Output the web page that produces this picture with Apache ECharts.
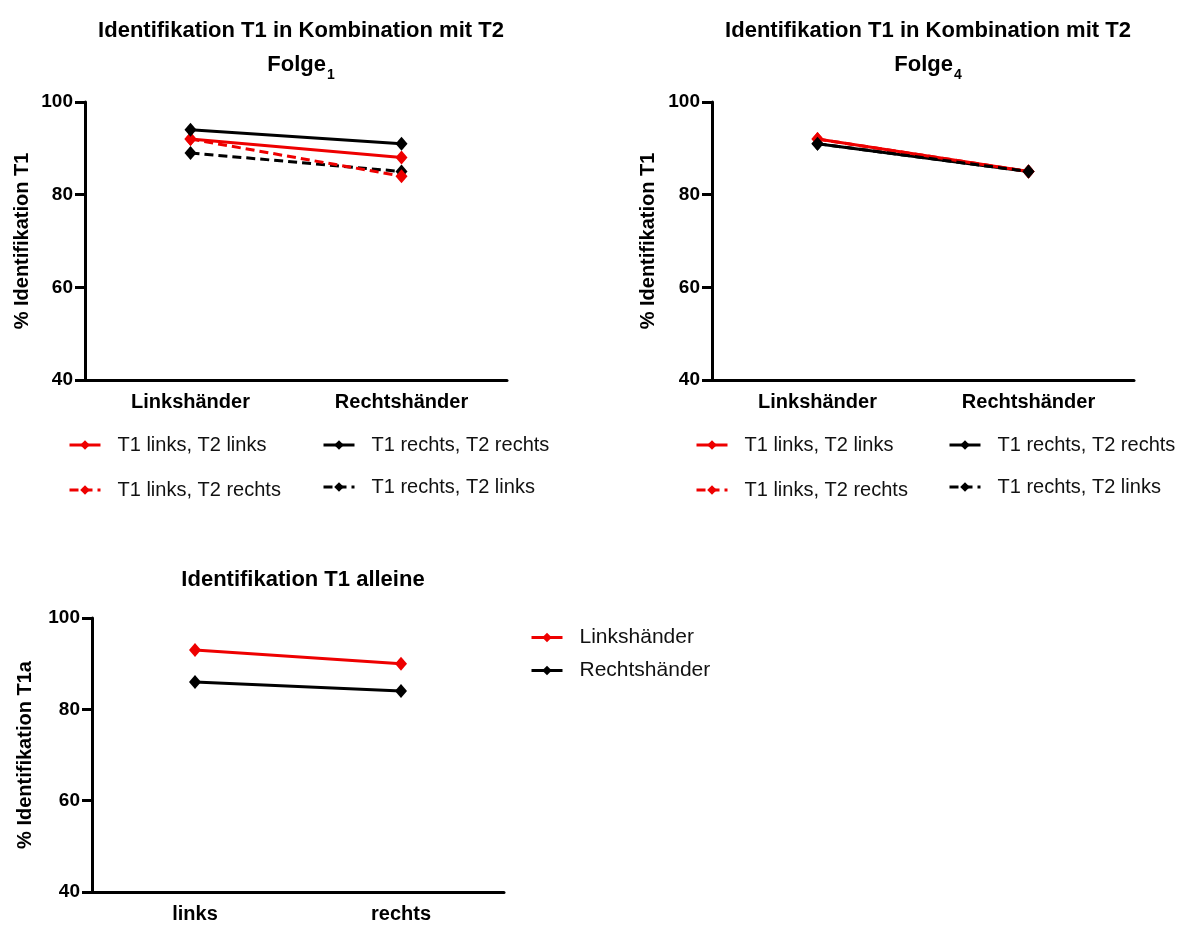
<!DOCTYPE html>
<html>
<head>
<meta charset="utf-8">
<script src="https://cdn.jsdelivr.net/npm/echarts@6/dist/echarts.min.js"></script>
<style>
  html, body { margin: 0; padding: 0; background: #fff; }
  #chart { width: 1188px; height: 925px; }
</style>
</head>
<body>
<div id="chart"></div>
<script>
// Folge 1 / Folge 4: Kategorien und Werte
const handCategories = ['Linkshänder', 'Rechtshänder']
const f1LinksLinks = [92, 88]
const f1LinksRechts = [92, 84]
const f1RechtsRechts = [94, 91]
const f1RechtsLinks = [89, 85]
const f4LinksLinks = [92, 85]
const f4LinksRechts = [92, 85]
const f4RechtsRechts = [91, 85]
const f4RechtsLinks = [91, 85]

// T1 alleine
const sideCategories = ['links', 'rechts']
const alleineLinkshaender = [93, 90]
const alleineRechtshaender = [86, 84]

const seriesNames = ['T1 links, T2 links', 'T1 links, T2 rechts', 'T1 rechts, T2 rechts', 'T1 rechts, T2 links']

const FONT = '"Liberation Sans", Arial, sans-serif'
const RED = '#ee0000'
const BLACK = '#000000'

const chart = echarts.init(document.getElementById('chart'))

function xAxis(idx, cats) {
  return {
    type: 'category', gridIndex: idx, data: cats, boundaryGap: true,
    axisLine: { lineStyle: { color: '#000', width: 3 } },
    axisTick: { alignWithLabel: true, length: 9, lineStyle: { width: 3, color: '#000' } },
    axisLabel: { color: '#000', fontFamily: FONT, fontWeight: 'bold', fontSize: 20, margin: 12 },
    splitLine: { show: false }
  }
}
function yAxis(idx, name, gap) {
  return {
    type: 'value', gridIndex: idx, min: 40, max: 100, interval: 20,
    name: name, nameLocation: 'middle', nameGap: gap, nameRotate: 90,
    nameTextStyle: { color: '#000', fontFamily: FONT, fontWeight: 'bold', fontSize: 20 },
    axisLine: { show: true, lineStyle: { color: '#000', width: 3 } },
    axisTick: { show: true, length: 10, lineStyle: { width: 3, color: '#000' } },
    axisLabel: { color: '#000', fontFamily: FONT, fontWeight: 'bold', fontSize: 19, margin: 12 },
    splitLine: { show: false }
  }
}
function line(name, idx, data, color, dashed) {
  return {
    name: name, type: 'line', xAxisIndex: idx, yAxisIndex: idx, data: data,
    symbol: 'diamond', symbolSize: [12, 14],
    itemStyle: { color: color },
    lineStyle: { color: color, width: 3, type: dashed ? [9, 5] : 'solid' },
    animation: false
  }
}
function legendItem(name, left, top) {
  return {
    data: [name], left: left, top: top, padding: 0,
    itemWidth: 31, itemHeight: 12, selectedMode: false,
    lineStyle: { width: 3 },
    textStyle: { color: '#111', fontFamily: FONT, fontSize: 20, padding: [0, 0, 0, 12] }
  }
}
function title(text, x, y) {
  return {
    text: text, left: x, top: y, textAlign: 'center',
    textStyle: {
      color: '#000', fontFamily: FONT, fontWeight: 'bold', fontSize: 22, lineHeight: 34,
      rich: { sub: { fontFamily: FONT, fontWeight: 'bold', fontSize: 14, lineHeight: 34, verticalAlign: 'bottom', padding: [0, 0, 0, 1] } }
    }
  }
}

chart.setOption({
  backgroundColor: '#fff',
  title: [
    title('Identifikation T1 in Kombination mit T2\nFolge{sub|1}', 296, 9),
    title('Identifikation T1 in Kombination mit T2\nFolge{sub|4}', 923, 9),
    title('Identifikation T1 alleine', 298, 558)
  ],
  grid: [
    { left: 85, top: 102, width: 422, height: 278 },
    { left: 712, top: 102, width: 422, height: 278 },
    { left: 92, top: 618, width: 412, height: 274 }
  ],
  xAxis: [xAxis(0, handCategories), xAxis(1, handCategories), xAxis(2, sideCategories)],
  yAxis: [
    yAxis(0, '% Identifikation T1', 53),
    yAxis(1, '% Identifikation T1', 54),
    yAxis(2, '% Identifikation T1a', 57)
  ],
  legend: [
    legendItem(seriesNames[0], 68, 435),
    legendItem(seriesNames[1], 68, 480),
    legendItem(seriesNames[2], 322, 435),
    legendItem(seriesNames[3], 322, 477),
    legendItem(seriesNames[0], 695, 435),
    legendItem(seriesNames[1], 695, 480),
    legendItem(seriesNames[2], 948, 435),
    legendItem(seriesNames[3], 948, 477),
    {
      data: ['Linkshänder', 'Rechtshänder'], orient: 'vertical', left: 530, top: 627,
      padding: 0, itemGap: 12, itemWidth: 31, itemHeight: 12, selectedMode: false,
      lineStyle: { width: 3 },
      textStyle: { color: '#111', fontFamily: FONT, fontSize: 21, padding: [0, 0, 0, 12] }
    }
  ],
  series: [
    line(seriesNames[3], 0, f1RechtsLinks, BLACK, true),
    line(seriesNames[1], 0, f1LinksRechts, RED, true),
    line(seriesNames[0], 0, f1LinksLinks, RED, false),
    line(seriesNames[2], 0, f1RechtsRechts, BLACK, false),
    line(seriesNames[2], 1, f4RechtsRechts, BLACK, false),
    line(seriesNames[0], 1, f4LinksLinks, RED, false),
    line(seriesNames[1], 1, f4LinksRechts, RED, true),
    line(seriesNames[3], 1, f4RechtsLinks, BLACK, true),
    line('Linkshänder', 2, alleineLinkshaender, RED, false),
    line('Rechtshänder', 2, alleineRechtshaender, BLACK, false)
  ]
})
</script>
</body>
</html>
